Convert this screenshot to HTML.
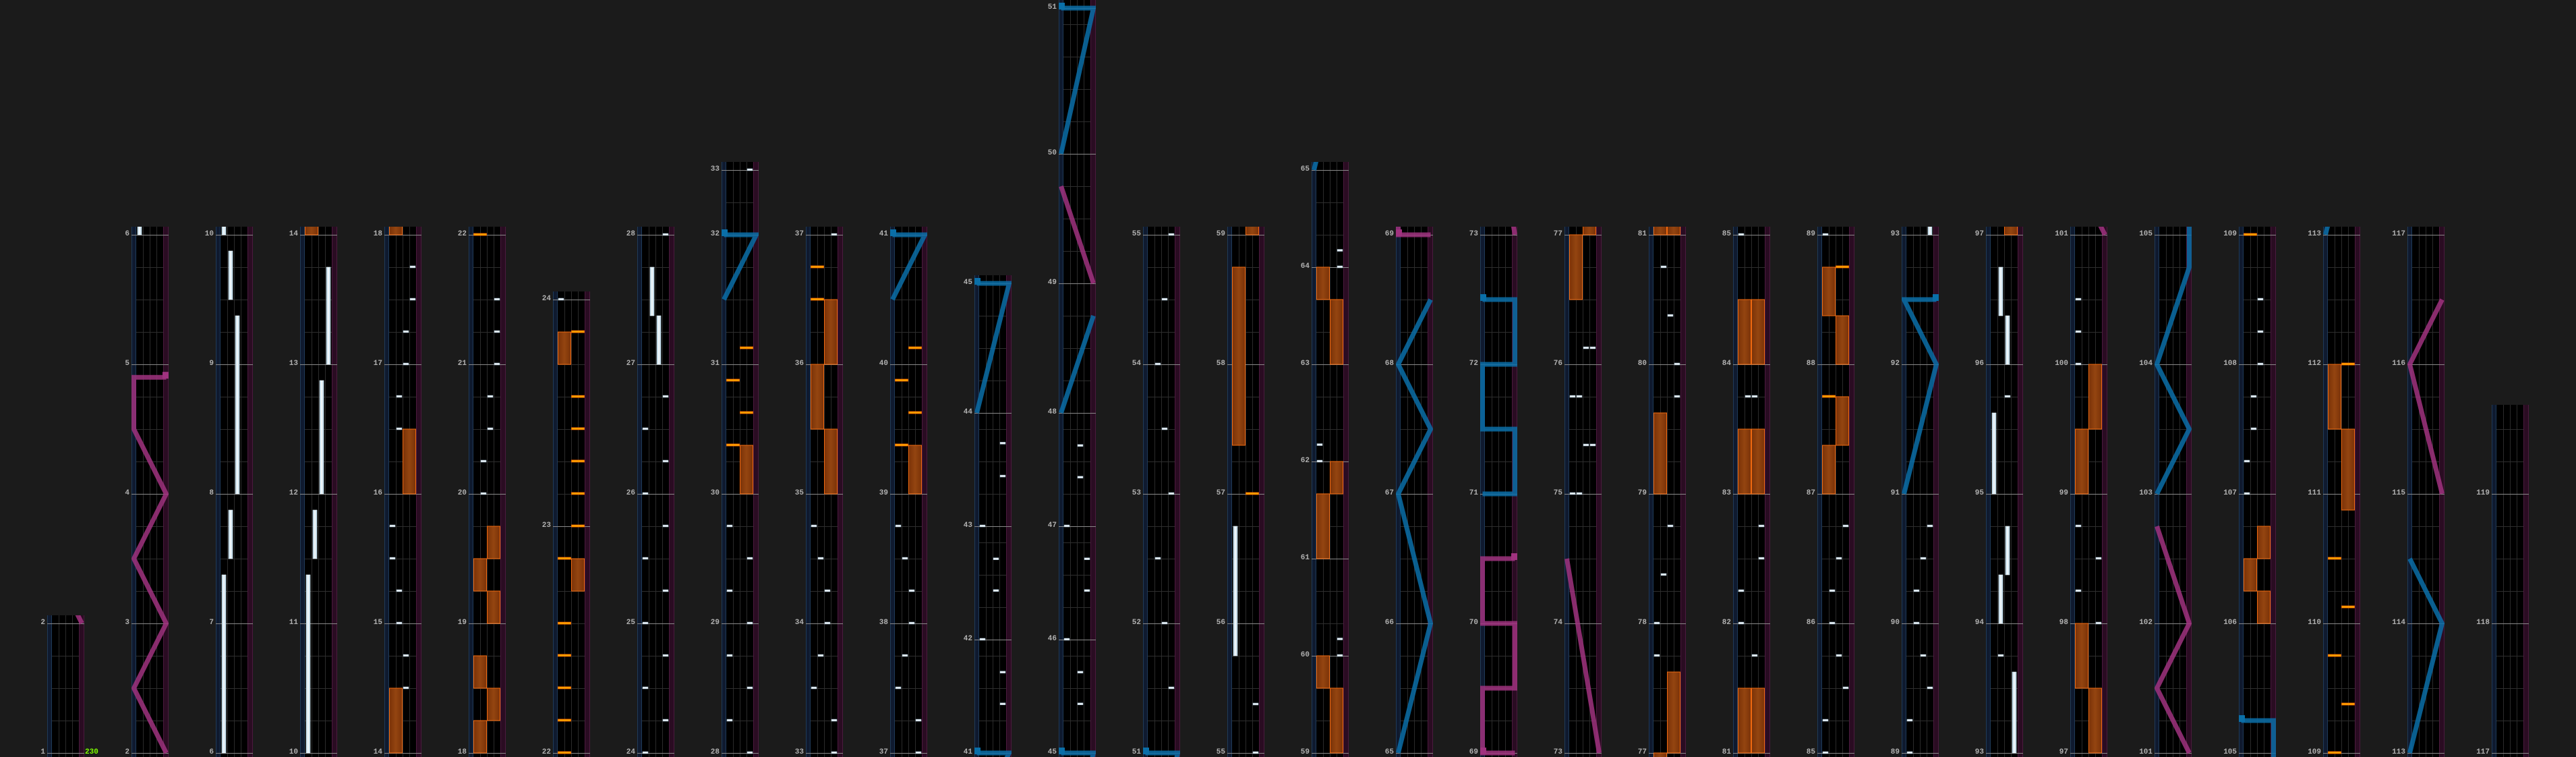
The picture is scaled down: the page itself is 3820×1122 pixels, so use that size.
<!DOCTYPE html>
<html><head><meta charset="utf-8">
<style>
html,body{margin:0;padding:0;background:#1b1b1b;width:3820px;height:1122px;overflow:hidden;}
svg{display:block;}
text{font-family:"Liberation Mono","DejaVu Sans Mono",monospace;font-weight:bold;}
</style></head>
<body>
<svg id="chart" width="3820" height="1122" viewBox="0 0 3820 1122" xmlns="http://www.w3.org/2000/svg">
<rect x="0" y="0" width="3820" height="1122" fill="#1b1b1b"/>
<g id="cols"></g>
<text x="126" y="1117" font-size="11" fill="#7fff00">230</text>
</svg>
<script>
// ---- data ----
const colStarts=[1,2,6,10,14,18,22,24,28,33,37,41,45,51,55,59,65,69,73,77,81,85,89,93,97,101,105,109,113,117];
const lastEnd=119;
const beatMeasures=[22,23,32,41,42,43,45,46,47,50,59,60,61,62,63,64];
const beatCounts=[7,7,2,3.5,3.5,3.5,3.5,3.5,3.5,4.5,3,3,3,3,3,3];
const tapPos=[14.5,14.75,15,15.25,15.5,15.75,16.5,16.75,17,17.25,17.5,17.75,
20,20.25,20.5,20.75,21,21.25,21.5,24,
24.25,24.5,24.75,25,25.25,25.5,25.75,26,26.25,26.5,26.75,28,
28.25,28.5,28.75,29,29.25,29.5,29.75,33,
33.25,33.5,33.75,34,34.25,34.5,34.75,37,
37.25,37.5,37.75,38,38.25,38.5,38.75,
41.43,41.71,42,42.43,42.71,43,43.44,43.73,
45.43,45.71,46,46.43,46.71,47,47.43,47.71,
51.5,52,52.5,53,53.5,54,54.5,55,55.375,
60,60.17,62,62.17,64,64.17,
75,75,75.375,75.375,75.75,75.75,76.125,76.125,
77.75,78,78.375,78.75,79.75,80,80.375,80.75,
81.75,82,82.25,82.5,82.75,83.75,83.75,85,
85.25,85.5,85.75,86,86.25,86.5,86.75,89,
89.25,89.5,89.75,90,90.25,90.5,90.75,
93.75,95.75,
98,98.25,98.5,98.75,100,100.25,100.5,
107,107.25,107.5,107.75,108,108.25,108.5];
const tapLane=[2,2,1,1,0,0,1,1,2,2,3,3,
1,1,2,2,3,3,3,0,
3,0,3,0,3,0,3,0,3,0,3,3,
0,3,0,3,0,3,0,3,
3,0,1,2,2,1,0,3,
3,0,1,2,2,1,0,
3,3,0,2,2,0,3,3,
2,2,0,3,3,0,2,2,
3,2,1,3,2,1,2,3,3,
3,3,0,0,3,3,
0,1,2,3,0,1,2,3,
0,0,1,2,3,3,2,1,
2,0,0,3,3,1,2,0,
0,3,2,1,1,2,3,0,
0,3,2,1,1,2,3,
1,2,
3,0,3,0,0,0,0,
0,0,1,1,2,2,2];
const lnStart=[6,7.5,8,9.5,10,11.5,12,13,27,27.375,55.75,93,94,94.375,95,96,96.375];
const lnEnd=[7.375,7.875,9.375,9.875,11.375,11.875,12.875,13.75,27.375,27.75,56.75,93.625,94.375,94.75,95.625,96.375,96.75];
const lnLane=[0,1,2,1,0,1,2,3,2,1,0,3,1,2,0,2,1];
const obStart=[14,16,18,18.25,18.5,19,19.25,19.5,22.714,23.714,30,35,35.5,36,39,57.375,59,59.667,61,61.667,63,63.667,76.5,77,79,81,81,83,83,84,84,87,87.375,88,88.375,97,97.5,99,99.5,106,106.25,106.5,110.875,111.5];
const obEnd=[14.5,16.5,18.25,18.5,18.75,19.25,19.5,19.75,22.857,23.857,30.375,35.5,36,36.5,39.375,58.75,59.667,60,61.667,62,63.667,64,77,77.625,79.625,81.5,81.5,83.5,83.5,84.5,84.5,87.375,87.75,88.375,88.75,97.5,98,99.5,100,106.25,106.5,106.75,111.5,112];
const obHalf=[0,1,0,1,0,1,0,1,1,0,1,1,0,1,1,0,1,0,0,1,1,0,0,1,0,0,1,0,1,0,1,0,1,1,0,1,0,0,1,1,0,1,1,0];
const odPos=[22,22.143,22.286,22.429,22.571,22.857,23,23.143,23.286,23.429,23.571,23.857,30.375,30.625,30.875,31.125,36.5,36.75,39.375,39.625,39.875,40.125,57,87.75,88.75,109,109.375,109.75,110.125,110.5,112];
const odHalf=[0,0,0,0,0,0,1,1,1,1,1,1,0,1,0,1,0,0,0,1,0,1,1,0,1,0,1,0,1,0,1];
const blueM=[[31.5,32,32],[40.5,41,41],[44,45,45],[48,48.75],[50,51,51],[65,66,67,67.5,68,68.5],[71,71,71.5,71.5,72,72,72.5,72.5],[91,92,92.5,92.5],[103,103.5,104,104.75,105.25,105.25],[113,114,114.5]];
const blueS=[[0,1,0],[0,1,0],[0,1,0],[0,1],[0,1,0],[0,1,0,1,0,1],[0,1,1,0,0,1,1,0],[0,1,0,1],[0,1,0,1,1,0],[0,1,0]];
const pinkM=[[2,2.5,3,3.5,4,4.5,4.9,4.9],[49,49.75],[69,69,69.5,69.5,70,70,70.5,70.5],[73,74.5],[101,101.5,102,102.75],[115,116,116.5]];
const pinkS=[[1,0,1,0,1,0,0,1],[1,0],[1,0,0,1,1,0,0,1],[1,0],[1,0,1,0],[1,0,1]];
const sqM=[32,41,45,51,4.9,69,72.5,92.5,105.25,70.5];
const sqS=[0,0,0,0,1,0,0,1,0,1];
const sqC=["b","b","b","b","p","p","b","b","b","p"];

const NS="http://www.w3.org/2000/svg";
const BEAT=48, BASE=1116;
function B(k){const i=beatMeasures.indexOf(k);return i>=0?beatCounts[i]:4;}
function beatsBetween(a,m){
  if(m<a) return -(a-m)*B(a-1);
  let b=0,k=a;while(k+1<=m){b+=B(k);k++;}
  return b+(m-k)*B(k);
}
function mk(tag,attrs,parent){const e=document.createElementNS(NS,tag);for(const k in attrs)e.setAttribute(k,attrs[k]);parent.appendChild(e);return e;}
const root=document.getElementById('cols');
const defs=mk('defs',{},root);
const lg=mk('linearGradient',{id:'lng',x1:'0',x2:'1',y1:'0',y2:'0'},defs);
mk('stop',{offset:'0','stop-color':'#9fc6dc'},lg);mk('stop',{offset:'0.5','stop-color':'#ffffff'},lg);mk('stop',{offset:'1','stop-color':'#9fc6dc'},lg);
const og=mk('linearGradient',{id:'obg',x1:'0',x2:'1',y1:'0',y2:'0'},defs);
mk('stop',{offset:'0','stop-color':'#7a3208'},og);mk('stop',{offset:'0.5','stop-color':'#944510'},og);mk('stop',{offset:'1','stop-color':'#7a3208'},og);

colStarts.forEach((s,ci)=>{
  const e=ci<colStarts.length-1?colStarts[ci+1]:lastEnd;
  const x0=70+125*ci;
  const y=m=>BASE-BEAT*beatsBetween(s,m);
  const last=ci===colStarts.length-1;
  let top=last?600:Math.max(0,y(e)-12);
  const g=mk('g',{},root);
  
  
  const cp=mk('clipPath',{id:'cp'+ci},defs);
  mk('rect',{x:x0,y:top,width:55,height:1122-top},cp);
  const panel=mk('rect',{x:x0,y:top,width:55,height:1122-top,fill:'#000'},g);
  
  
  mk('rect',{x:x0,y:top,width:7,height:1122-top,fill:'#0f1a2f'},g);
  mk('line',{x1:x0+0.5,x2:x0+0.5,y1:top,y2:1122,stroke:'#1f3a58'},g);
  mk('line',{x1:x0+6.5,x2:x0+6.5,y1:top,y2:1122,stroke:'#1f3a58'},g);
  mk('rect',{x:x0+47,y:top,width:8,height:1122-top,fill:'#2a0c22'},g);
  mk('line',{x1:x0+47.5,x2:x0+47.5,y1:top,y2:1122,stroke:'#4b1a3e'},g);
  mk('line',{x1:x0+54.5,x2:x0+54.5,y1:top,y2:1122,stroke:'#4b1a3e'},g);
  for(let k=1;k<4;k++) mk('line',{x1:x0+7+10*k+0.5,x2:x0+7+10*k+0.5,y1:top,y2:1122,stroke:'#2b2b2b'},g);
  for(let m=s-1;m<=e;m++){
    const nb=B(m);
    for(let b=1;b<nb;b++){
      const yy=y(m)-b*BEAT;
      if(yy<top||yy>1122) continue;
      mk('line',{x1:x0+7,x2:x0+47,y1:yy+0.5,y2:yy+0.5,stroke:'#2e2e2e'},g);
    }
  }
  if(last){for(let b=1;b<=2;b++){const yy=y(e)-b*BEAT;mk('line',{x1:x0+7,x2:x0+47,y1:yy+0.5,y2:yy+0.5,stroke:'#2e2e2e'},g);}}
  for(let m=s;m<=e;m++){
    const yy=y(m);
    mk('line',{x1:x0,x2:x0+55,y1:yy+0.5,y2:yy+0.5,stroke:'#8a8a8a'},g);
    const t=mk('text',{x:x0-3,y:yy+1,'text-anchor':'end','font-size':'11',fill:'#b0b0b0'},g);
    
    
    t.textContent=String(m);
  }
  const cg=mk('g',{'clip-path':'url(#cp'+ci+')'},g);
  const inCol=(a,b)=>b>=s-0.2&&a<=e+0.3;
  obStart.forEach((a,i)=>{
    if(!inCol(a,obEnd[i]))return;
    const r=mk('rect',{x:x0+7+20*obHalf[i]+0.5,y:y(obEnd[i]),width:19,height:y(a)-y(obEnd[i]),fill:'url(#obg)',stroke:'#f06a10','stroke-width':1},cg);
    
    
  });
  lnStart.forEach((a,i)=>{
    if(!inCol(a,lnEnd[i]))return;
    const r=mk('rect',{x:x0+7+10*lnLane[i]+2,y:y(lnEnd[i]),width:6,height:y(a)-y(lnEnd[i]),fill:'url(#lng)',stroke:'#dfeef6','stroke-width':0.6},cg);
    
    
  });
  tapPos.forEach((p,i)=>{
    if(!inCol(p,p))return;
    const r=mk('rect',{x:x0+7+10*tapLane[i]+1,y:y(p)-2,width:8,height:3,fill:'#e6eef4',stroke:'#9ab4c8','stroke-width':0.5},cg);
    
    
  });
  odPos.forEach((p,i)=>{
    if(!inCol(p,p))return;
    const r=mk('rect',{x:x0+7+20*odHalf[i]+0.5,y:y(p)-2,width:19,height:3,fill:'#ffa500',stroke:'#ff6a00','stroke-width':0.8},cg);
    
    
  });
  const drawPaths=(MS,SS,col,name)=>{
    MS.forEach((ms,pi)=>{
      const lo=Math.min(...ms),hi=Math.max(...ms);
      if(!inCol(lo,hi))return;
      const pts=ms.map((m,j)=>(SS[pi][j]?x0+51.5:x0+3.5)+','+y(m)).join(' ');
      const pl=mk('polyline',{points:pts,fill:'none',stroke:col,'stroke-width':7,'stroke-linejoin':'miter','stroke-opacity':0.85},cg);
      
      
    });
  };
  drawPaths(blueM,blueS,'#0a6fa8','blue-scratch-line');
  drawPaths(pinkM,pinkS,'#a0327f','pink-scratch-line');
  sqM.forEach((m,i)=>{
    if(!inCol(m,m))return;
    const r=mk('rect',{x:sqS[i]?x0+46:x0,y:y(m)-8,width:9,height:10,fill:sqC[i]==='b'?'#0a6fa8':'#a0327f'},cg);
    
    
  });
});
</script>
</body></html>
